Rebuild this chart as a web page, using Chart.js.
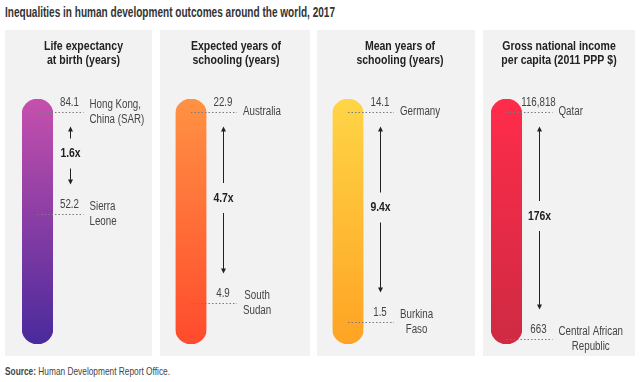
<!DOCTYPE html>
<html><head><meta charset="utf-8">
<script src="https://cdn.jsdelivr.net/npm/chart.js@4.4.1/dist/chart.umd.min.js"></script>
<style>
html,body{margin:0;padding:0;background:#fff;}
#wrap{position:relative;width:640px;height:382px;overflow:hidden;font-family:"Liberation Sans Narrow","Liberation Sans",sans-serif;}
#title{position:absolute;left:5px;top:4px;font-weight:bold;font-size:15.5px;line-height:15px;color:#333;white-space:nowrap;transform-origin:left top;}
#source{position:absolute;left:5px;top:366px;font-size:11px;line-height:11px;color:#444;white-space:nowrap;transform-origin:left top;}
.panel{position:absolute;top:30px;height:326px;background:#f2f2f3;}
canvas{display:block;}
</style></head>
<body><div id="wrap">
<div id="title">Inequalities in human development outcomes around the world, 2017</div>
<div id="source"><b>Source:</b> Human Development Report Office.</div>
</div>
<script>
// ---- data ----
const indicators = [["Life expectancy","at birth (years)"],["Expected years of","schooling (years)"],["Mean years of","schooling (years)"],["Gross national income","per capita (2011 PPP $)"]];
const highValues = [84.1, 22.9, 14.1, 116818];
const lowValues = [52.2, 4.9, 1.5, 663];
const highCountries = [["Hong Kong,","China (SAR)"],["Australia"],["Germany"],["Qatar"]];
const lowCountries = [["Sierra","Leone"],["South","Sudan"],["Burkina","Faso"],["Central African","Republic"]];
const ratios = ["1.6x","4.7x","9.4x","176x"];
const axisMin = [11.6, 1.0, 0.2, -1900];
const axisMax = [88.2, 24.1, 14.9, 123500];

// ---- layout / style ----
const panels = [
  {x:5,   w:147, bar:32.5, tx:5, top:'#c650ad', bottom:'#4a2a9c', centerLines:false},
  {x:160, w:150, bar:31,   tx:1, top:'#ff9243', bottom:'#ff4b2d', centerLines:true},
  {x:317, w:158, bar:31,   tx:4, top:'#ffd546', bottom:'#ffa323', centerLines:true},
  {x:483, w:152, bar:23.5, tx:0, top:'#ff2c4a', bottom:'#cf2a43', centerLines:true}
];
const PH = 326, BARW = 31;
const FONT = '"Liberation Sans Narrow","Liberation Sans",sans-serif';
const SQUEEZE = 0.78;

function fitText(ctx, text, x, y, font, squeeze) {
  ctx.font = font.replace('FAM', '"Liberation Sans"');
  const w = ctx.measureText(text).width * squeeze;
  ctx.font = font.replace('FAM', FONT);
  ctx.fillText(text, x, y, w);
  return w;
}

function fmt(v){ return v.toLocaleString('en-US'); }

panels.forEach((p, i) => {
  const div = document.createElement('div');
  div.className = 'panel';
  div.style.left = p.x + 'px';
  div.style.width = p.w + 'px';
  const cv = document.createElement('canvas');
  cv.width = p.w; cv.height = PH;
  cv.style.width = p.w + 'px'; cv.style.height = PH + 'px';
  div.appendChild(cv);
  document.getElementById('wrap').appendChild(div);

  const annot = {
    id: 'annot' + i,
    afterDraw(chart) {
      const ctx = chart.ctx;
      const ys = chart.scales.y;
      const area = chart.chartArea;
      const cx = (area.left + area.right) / 2;
      ctx.save();
      // panel title
      ctx.fillStyle = '#222';
      ctx.textAlign = 'center';
      ctx.textBaseline = 'middle';
      indicators[i].forEach((t, k) => fitText(ctx, t, p.w / 2 + p.tx, 16 + k * 14, 'bold 13.5px FAM', SQUEEZE));
      const yHi = Math.round(ys.getPixelForValue(highValues[i])) + 0.5;
      const yLo = Math.round(ys.getPixelForValue(lowValues[i])) + 0.5;
      // dotted leader lines
      ctx.strokeStyle = '#7a7a7a';
      ctx.lineWidth = 1;
      ctx.setLineDash([1.5, 2]);
      [yHi, yLo].forEach(y => { ctx.beginPath(); ctx.moveTo(cx, y); ctx.lineTo(cx + 46, y); ctx.stroke(); });
      ctx.setLineDash([]);
      // value labels
      const vx = cx + 32;
      ctx.fillStyle = '#444';
      ctx.textAlign = 'center';
      fitText(ctx, fmt(highValues[i]), vx, yHi - 10, '12.5px FAM', SQUEEZE);
      fitText(ctx, fmt(lowValues[i]), vx, yLo - 10, '12.5px FAM', SQUEEZE);
      // country labels
      const lx = cx + 52;
      function country(lines, y) {
        const f = '12.5px FAM';
        ctx.font = f.replace('FAM', '"Liberation Sans"');
        const widths = lines.map(t => ctx.measureText(t).width * SQUEEZE);
        const bw = Math.max(...widths);
        const y0 = lines.length === 1 ? y - 1 : y - 8;
        lines.forEach((t, k) => {
          if (p.centerLines && lines.length > 1) { ctx.textAlign = 'center'; fitText(ctx, t, lx + bw / 2, y0 + k * 15, f, SQUEEZE); }
          else { ctx.textAlign = 'left'; fitText(ctx, t, lx, y0 + k * 15, f, SQUEEZE); }
        });
      }
      country(highCountries[i], yHi);
      country(lowCountries[i], yLo);
      // ratio arrow
      const ax = Math.round(vx) + 0.5;
      const top = yHi + 14, bot = yLo - 30;
      const mid = (top + bot) / 2 - 2;
      ctx.strokeStyle = '#222';
      ctx.fillStyle = '#222';
      ctx.beginPath();
      ctx.moveTo(ax, top + 4); ctx.lineTo(ax, mid - 15);
      ctx.moveTo(ax, mid + 15); ctx.lineTo(ax, bot - 4);
      ctx.stroke();
      ctx.beginPath();
      ctx.moveTo(ax, top); ctx.lineTo(ax - 2.5, top + 5); ctx.lineTo(ax + 2.5, top + 5); ctx.closePath(); ctx.fill();
      ctx.beginPath();
      ctx.moveTo(ax, bot); ctx.lineTo(ax - 2.5, bot - 5); ctx.lineTo(ax + 2.5, bot - 5); ctx.closePath(); ctx.fill();
      ctx.textAlign = 'center';
      fitText(ctx, ratios[i], ax, mid, 'bold 13px FAM', 0.8);
      ctx.restore();
    }
  };

  new Chart(cv, {
    type: 'bar',
    data: {
      labels: [indicators[i].join(' ')],
      datasets: [{
        data: [[axisMin[i], axisMax[i]]],
        backgroundColor(c) {
          const a = c.chart.chartArea;
          if (!a) return p.top;
          const g = c.chart.ctx.createLinearGradient(0, a.top, 0, a.bottom);
          g.addColorStop(0, p.top);
          g.addColorStop(1, p.bottom);
          return g;
        },
        borderRadius: 16,
        borderSkipped: false,
        barPercentage: 1,
        categoryPercentage: 1
      }]
    },
    options: {
      responsive: false,
      animation: false,
      events: [],
      layout: { padding: { left: p.bar - BARW / 2, right: p.w - p.bar - BARW / 2, top: 69, bottom: 12 } },
      scales: {
        x: { display: false },
        y: { display: false, min: axisMin[i], max: axisMax[i] }
      },
      plugins: { legend: { display: false }, tooltip: { enabled: false }, title: { display: false } }
    },
    plugins: [annot]
  });
});

// fit header/footer widths to the reference
function squeezeTo(id, target) {
  const el = document.getElementById(id);
  const w = el.getBoundingClientRect().width;
  el.style.transform = 'scaleX(' + (target / w) + ')';
}
squeezeTo('title', 330);
squeezeTo('source', 165);
</script>
</body></html>
